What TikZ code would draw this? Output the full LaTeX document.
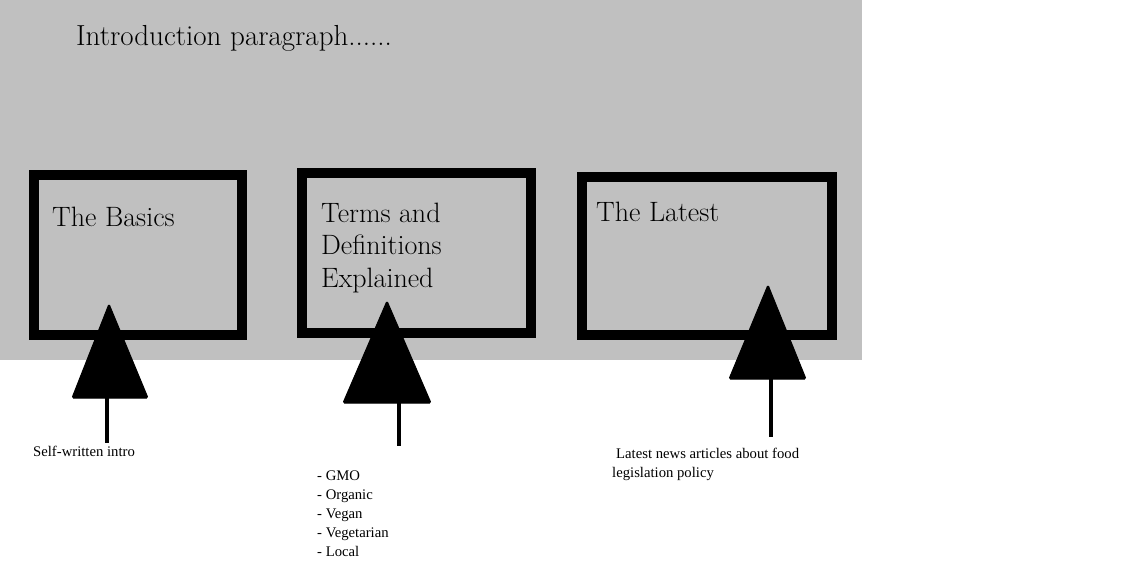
\documentclass[tikz,border=0pt]{standalone}
\usepackage{fontspec}
\newfontfamily\timesf{Liberation Serif}
\definecolor{bggray}{HTML}{C0C0C0}
\tikzset{
  frame/.style={draw=black, line width=10pt, fill=none},
  bigtext/.style={font=\fontsize{28}{32.5}\selectfont, inner sep=0pt, anchor=base west, align=left},
  smalltext/.style={font=\timesf\fontsize{14.7}{19}\selectfont, inner sep=0pt, anchor=base west, align=left},
  pointer/.style={fill=black, draw=black, line width=1pt, rounded corners=1.5pt},
  stem/.style={draw=black, line width=3.5pt}
}
\begin{document}
\begin{tikzpicture}[x=1pt,y=-1pt]
\useasboundingbox (0,0) rectangle (1135,562);
\fill[bggray] (0,0) rectangle (862,360);
\node[bigtext, font=\fontsize{29}{32.5}\selectfont] (intro) at (76,45) {Introduction paragraph......};
% boxes
\draw[frame] (34,175) rectangle (242,335);
\draw[frame] (302,173) rectangle (531,333);
\draw[frame] (582,177) rectangle (832,335);
\node[bigtext] (basics) at (52,226) {The Basics};
\node[bigtext] (terms) at (321,287) {Terms and\\Definitions\\Explained};
\node[bigtext] (latest) at (596,221) {The Latest};
% pointers
\coordinate (a1) at (109,304);
\coordinate (a2) at (387,301);
\coordinate (a3) at (768,285);
\filldraw[pointer] (a1) -- (148,398) -- (72,398) -- cycle;
\filldraw[pointer] (a2) -- (431,403) -- (343,403) -- cycle;
\filldraw[pointer] (a3) -- (806,379) -- (729,379) -- cycle;
\coordinate (s1) at (107,398);
\coordinate (s2) at (399,403);
\coordinate (s3) at (771,379);
\coordinate (e1) at (107,443);
\coordinate (e2) at (399,446);
\coordinate (e3) at (771,437);
\draw[stem] (s1) -- (e1);
\draw[stem] (s2) -- (e2);
\draw[stem] (s3) -- (e3);
% labels
\node[smalltext] (l1) at (33,456) {Self-written intro};
\node[smalltext] (l2) at (317,556) {- GMO\\- Organic\\- Vegan\\- Vegetarian\\- Local};
\node[smalltext] (l3) at (612,477) {\hspace{4pt}Latest news articles about food\\legislation policy};
\end{tikzpicture}
\end{document}
